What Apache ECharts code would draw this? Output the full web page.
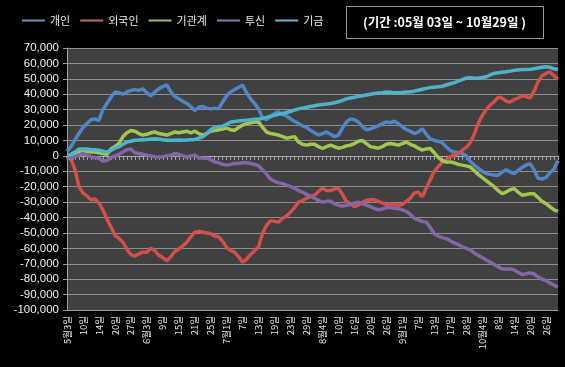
<!DOCTYPE html>
<html><head><meta charset="utf-8">
<script src="https://cdn.jsdelivr.net/npm/echarts@6/dist/echarts.min.js"></script>
<style>html,body{margin:0;padding:0;background:#000;}#c{width:565px;height:367px;}</style>
</head><body><div id="c"></div>
<script>
const categories = [
'5/3','5/4','5/6','5/7','5/10','5/11','5/12','5/13','5/14','5/17','5/18','5/19','5/20','5/24','5/25','5/26','5/27','5/28','5/31',
'6/1','6/3','6/4','6/7','6/8','6/9','6/10','6/11','6/14','6/15','6/16','6/17','6/18','6/21','6/22','6/23','6/24','6/25','6/28','6/29','6/30',
'7/1','7/2','7/5','7/6','7/7','7/8','7/9','7/12','7/13','7/14','7/15','7/16','7/19','7/20','7/21','7/22','7/23','7/26','7/27','7/28','7/29','7/30',
'8/2','8/3','8/4','8/5','8/6','8/9','8/10','8/11','8/12','8/13','8/16','8/17','8/18','8/19','8/20','8/23','8/24','8/25','8/26','8/27','8/30','8/31',
'9/1','9/2','9/3','9/6','9/7','9/8','9/9','9/10','9/13','9/14','9/15','9/16','9/17','9/20','9/24','9/27','9/28','9/29','9/30',
'10/1','10/4','10/5','10/6','10/7','10/8','10/11','10/12','10/13','10/14','10/15','10/18','10/19','10/20','10/21','10/22','10/25','10/26','10/27','10/28','10/29'
];
const tickLabels = ['5월3일','10일','14일','20일','27일','6월3일','9일','15일','21일','25일','7월1일','7일','13일','19일','23일','29일','8월4일','10일','16일','20일','26일','9월1일','7일','13일','17일','28일','10월4일','8일','14일','20일','26일'];
const seriesNames = ['개인','외국인','기관계','투신','기금'];
const individual = [3000,6000,10500,14500,18500,21000,23500,24000,23000,30000,34000,38000,41500,41000,40000,41500,42500,43000,42500,43500,41000,39000,41500,43500,45000,46000,41500,38500,37000,35500,34000,32000,29500,31500,32000,31000,30500,31000,30500,35000,39000,41500,43000,44500,46000,41000,37000,34000,30500,24500,23500,25500,27500,28500,27000,26000,24000,22500,21000,19500,18500,16500,15000,13500,14500,15500,14000,12500,13500,18000,22000,24000,23500,22000,19000,17000,17500,18500,19500,21000,22000,21500,22500,21000,19000,17000,16000,14500,15500,17500,14000,11000,10000,9500,8500,6000,3500,2500,2000,1500,0,-3500,-6000,-8000,-10000,-11500,-12000,-12500,-12500,-10500,-9000,-10500,-11500,-9500,-7500,-6000,-5000,-9000,-14500,-15000,-14000,-11000,-8500,-3000];
const foreign = [-500,-2000,-9000,-20000,-24000,-26000,-28500,-28000,-30500,-35000,-41000,-46000,-51500,-53500,-56000,-60500,-64000,-65000,-63500,-62500,-62500,-60000,-61500,-64500,-66000,-68000,-65500,-62000,-60500,-58500,-56000,-52500,-49500,-49000,-49500,-50000,-50500,-52000,-52500,-55500,-59500,-61500,-62500,-65500,-69000,-67000,-64000,-61500,-59000,-50000,-45000,-42000,-42500,-43000,-40500,-39000,-36500,-33500,-30000,-29000,-27500,-26500,-25500,-23000,-21000,-22500,-22500,-21500,-21000,-25000,-29500,-31000,-33000,-32000,-30000,-29000,-28500,-28500,-29500,-30500,-31500,-31000,-31500,-32000,-31500,-29500,-27500,-24000,-23500,-26500,-21000,-15500,-10000,-7000,-4000,-2500,-500,500,1500,3500,5500,8500,14000,21000,26000,30000,33000,35000,38000,37500,35500,35000,36500,37500,39000,38500,37500,42000,48000,52000,53500,54500,52000,50000];
const institution = [0,-2000,500,3000,3500,3000,2500,2500,2000,1500,1000,4500,6000,8000,12500,15000,16500,16000,14500,13500,14000,15000,15500,14500,14000,13500,14500,15500,15000,15500,16000,15000,16000,14500,13500,14500,16000,16500,17000,17500,18000,17000,16500,18500,20000,21000,21500,22000,22000,18500,15500,14500,14000,13500,12500,11500,12000,12500,9000,7500,7000,7500,7500,6000,4800,6000,7000,6000,5000,5500,6500,7000,8000,9500,10000,8000,6000,5500,5000,6000,7500,8000,7500,7000,8000,9000,7500,6500,5000,3700,4500,4800,2000,-1000,-3000,-4000,-4000,-4500,-5500,-6000,-6500,-7200,-9500,-12000,-14000,-16000,-18000,-20000,-22500,-24500,-23500,-22000,-21200,-23500,-25500,-25000,-24500,-24500,-27000,-29500,-31000,-33000,-35000,-36000];
const trust = [-500,-1500,-500,500,1500,500,-500,-1000,-1500,-3500,-3000,-1000,0,1000,2500,4000,4500,2000,1500,1000,500,0,-500,-700,-500,0,500,1500,1000,0,-700,0,500,-1000,-1500,-1500,-2500,-4000,-4500,-5500,-6000,-5500,-5000,-5000,-4500,-4500,-5000,-5500,-6500,-9000,-12000,-15000,-16500,-17500,-18000,-19000,-20000,-21000,-22500,-23500,-25000,-26000,-27500,-29000,-30000,-29500,-29500,-31000,-32000,-32500,-32000,-31500,-30500,-30000,-31000,-32000,-33000,-34000,-35000,-34500,-33500,-33500,-34000,-34200,-35000,-36000,-38000,-40500,-41500,-42500,-43000,-46500,-50500,-52000,-53000,-53700,-55000,-56500,-57500,-59000,-60000,-61000,-63000,-64500,-66000,-67500,-69000,-70500,-72000,-73300,-73500,-73300,-74000,-75500,-77000,-76500,-76000,-76500,-78500,-80000,-81000,-82500,-84000,-85000];
const fund = [0,1000,2500,4500,4500,4500,4000,4000,3700,3000,2600,3500,5000,5900,7500,9000,9500,10200,10300,10500,10700,11000,11100,11000,10500,10200,10200,10200,10300,10200,10300,10500,10700,11500,12400,14500,17000,18500,19000,19300,20500,22000,22300,22600,23000,23200,23500,23800,24000,24300,25000,25700,26300,27000,27500,28200,28800,29700,30500,31000,31500,32000,32500,33000,33300,33600,34000,34500,35100,36000,37000,37500,38000,38700,39000,39500,40000,40500,40800,41000,41500,41300,41000,41000,41200,41400,41600,42000,42600,43200,43800,44300,44600,44800,45200,46000,46800,47500,48500,49500,50500,50700,50500,50400,50800,51300,52500,53500,54000,54300,54600,55000,55500,55800,56000,56100,56200,56500,57000,57500,57900,57500,56500,56000];
const colors = ['#4f86c8','#d24f4b','#a2c64e','#8466a8','#4eb2cc'];
const legendColors = ['#6f8fbf','#c06a68','#9fbd6c','#8a76a8','#6fb3c8'];
const allData = [individual, foreign, institution, trust, fund];
const font = '"Liberation Sans","Noto Sans CJK KR",sans-serif';

const chart = echarts.init(document.getElementById('c'));
chart.setOption({
  backgroundColor: '#000',
  animation: false,
  textStyle: {fontFamily: font},
  legend: {
    top: 10, left: 17,
    icon: 'rect',
    itemWidth: 23, itemHeight: 2, itemGap: 10,
    textStyle: {color: '#e8e8e8', fontSize: 11, fontFamily: '"Noto Sans CJK KR",sans-serif'},
    data: seriesNames.map(function (n, k) { return {name: n, itemStyle: {color: legendColors[k]}}; })
  },
  graphic: [{
    type: 'group', left: 346, top: 6,
    children: [
      {type: 'rect', shape: {x: 0, y: 0, width: 197, height: 32}, style: {fill: '#000', stroke: '#9a9a9a', lineWidth: 1}},
      {type: 'text', style: {x: 98, y: 16, text: '(기간 :05월 03일 ~ 10월29일 )', fill: '#fff', font: 'bold 12.5px "Noto Sans CJK KR", sans-serif', align: 'center', verticalAlign: 'middle'}}
    ]
  }],
  grid: {left: 67, right: 7, top: 48, bottom: 57, show: true, backgroundColor: '#404040', borderWidth: 0},
  xAxis: [{
    type: 'category', data: categories, boundaryGap: false,
    axisLine: {onZero: false, lineStyle: {color: '#9a9a9a'}},
    axisTick: {show: false},
    axisLabel: {
      interval: 3, rotate: 90, color: '#e0e0e0', fontSize: 9.5, margin: 6,
      fontFamily: '"Noto Sans CJK KR",sans-serif',
      formatter: function (v, i) { return tickLabels[Math.round(i / 4)] || ''; }
    },
    splitLine: {show: false}
  }, {
    type: 'category', data: categories, boundaryGap: false, position: 'bottom',
    axisLine: {onZero: true, lineStyle: {color: '#a8a8a8', width: 1}},
    axisTick: {show: true, interval: 0, length: 4, inside: false, lineStyle: {color: '#a8a8a8'}},
    axisLabel: {show: false},
    splitLine: {show: false}
  }],
  yAxis: {
    type: 'value', min: -100000, max: 70000, interval: 10000,
    axisLine: {show: true, lineStyle: {color: '#9a9a9a'}},
    axisTick: {show: true, length: 4, lineStyle: {color: '#9a9a9a'}},
    axisLabel: {color: '#f0f0f0', fontSize: 11.5, margin: 8,
      formatter: function (v) { return v.toLocaleString('en-US'); }},
    splitLine: {lineStyle: {color: '#8e8e8e', width: 1}}
  },
  series: seriesNames.map(function (n, k) {
    return {
      name: n, type: 'line', data: allData[k], xAxisIndex: 0,
      symbol: 'none', smooth: false,
      lineStyle: {width: 3.5, color: colors[k]},
      itemStyle: {color: colors[k]}
    };
  })
});
</script></body></html>
